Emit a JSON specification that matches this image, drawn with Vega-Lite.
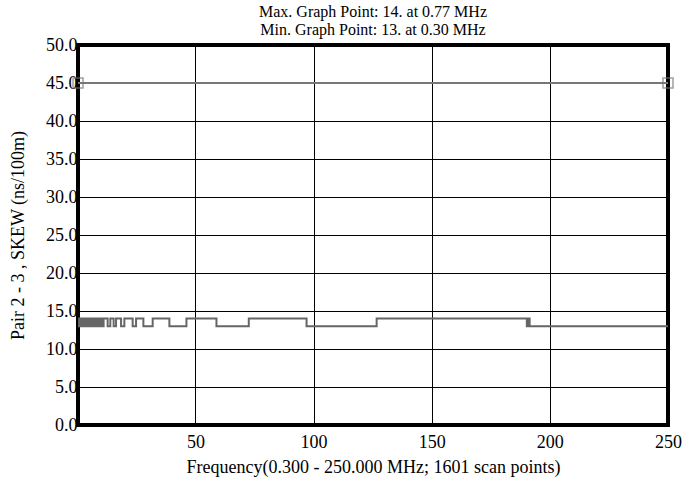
{
  "$schema": "https://vega.github.io/schema/vega-lite/v6.json",
  "width": 590,
  "height": 380,
  "autosize": {"type": "none"},
  "padding": {"left": 78, "top": 45, "right": 28, "bottom": 61},
  "background": "white",
  "title": {
    "text": ["Max. Graph Point: 14. at 0.77 MHz", "Min. Graph Point: 13. at 0.30 MHz"],
    "font": "Liberation Serif",
    "fontSize": 16,
    "fontWeight": "normal",
    "color": "black",
    "anchor": "middle",
    "lineHeight": 18,
    "offset": -2
  },
  "config": {
    "view": {"stroke": "black", "strokeWidth": 4},
    "axis": {
      "labelFont": "Liberation Serif",
      "titleFont": "Liberation Serif",
      "labelFontSize": 18,
      "titleFontSize": 18,
      "titleFontWeight": "normal",
      "labelColor": "black",
      "titleColor": "black",
      "gridColor": "black",
      "gridWidth": 1,
      "gridOpacity": 1,
      "domain": false,
      "ticks": false,
      "labelOverlap": false,
      "labelFlush": false
    }
  },
  "datasets": {
    "skew": [
      {"f": 0.3, "v": 13}, {"f": 0.77, "v": 14}, {"f": 1.08, "v": 13}, {"f": 1.39, "v": 14},
      {"f": 1.70, "v": 13}, {"f": 2.02, "v": 14}, {"f": 2.33, "v": 13}, {"f": 2.64, "v": 14},
      {"f": 2.95, "v": 13}, {"f": 3.27, "v": 14}, {"f": 3.58, "v": 13}, {"f": 3.89, "v": 14},
      {"f": 4.20, "v": 13}, {"f": 4.52, "v": 14}, {"f": 4.83, "v": 13}, {"f": 5.14, "v": 14},
      {"f": 5.45, "v": 13}, {"f": 5.77, "v": 14}, {"f": 6.08, "v": 13}, {"f": 6.39, "v": 14},
      {"f": 6.70, "v": 13}, {"f": 7.02, "v": 14}, {"f": 7.33, "v": 13}, {"f": 7.64, "v": 14},
      {"f": 7.95, "v": 13}, {"f": 8.27, "v": 14}, {"f": 8.58, "v": 13}, {"f": 8.89, "v": 14},
      {"f": 9.20, "v": 13}, {"f": 9.52, "v": 14}, {"f": 9.83, "v": 13}, {"f": 10.14, "v": 14},
      {"f": 10.45, "v": 13}, {"f": 10.77, "v": 13}, {"f": 11.14, "v": 14},
      {"f": 12.84, "v": 13}, {"f": 13.98, "v": 14}, {"f": 15.38, "v": 13}, {"f": 16.40, "v": 14},
      {"f": 18.52, "v": 13}, {"f": 19.92, "v": 14}, {"f": 23.43, "v": 13}, {"f": 24.87, "v": 14},
      {"f": 27.97, "v": 13}, {"f": 31.91, "v": 14}, {"f": 38.98, "v": 13}, {"f": 46.19, "v": 14},
      {"f": 58.90, "v": 13}, {"f": 72.58, "v": 14}, {"f": 97.03, "v": 13}, {"f": 126.69, "v": 14},
      {"f": 190.25, "v": 13}, {"f": 190.80, "v": 14}, {"f": 191.44, "v": 13}, {"f": 250, "v": 13}
    ],
    "limit": [
      {"f": 0.3, "v": 45}, {"f": 250, "v": 45}
    ]
  },
  "encoding": {
    "x": {
      "field": "f", "type": "quantitative",
      "scale": {"domain": [0.3, 250], "nice": false, "zero": false},
      "axis": {
        "values": [50, 100, 150, 200, 250],
        "tickCount": 20,
        "title": "Frequency(0.300 - 250.000 MHz; 1601 scan points)",
        "labelPadding": 8,
        "titlePadding": 7
      }
    },
    "y": {
      "field": "v", "type": "quantitative",
      "scale": {"domain": [0, 50], "nice": false},
      "axis": {
        "values": [0, 5, 10, 15, 20, 25, 30, 35, 40, 45, 50],
        "tickCount": 20,
        "format": ".1f",
        "title": "Pair 2 - 3 , SKEW (ns/100m)",
        "labelPadding": 1,
        "titlePadding": 18
      }
    }
  },
  "layer": [
    {
      "data": {"name": "skew"},
      "mark": {"type": "line", "interpolate": "step-after", "color": "#666666", "strokeWidth": 2}
    },
    {
      "data": {"name": "limit"},
      "mark": {"type": "line", "color": "#777777", "strokeWidth": 2}
    },
    {
      "data": {"name": "limit"},
      "mark": {"type": "point", "shape": "square", "filled": false, "color": "#777777", "size": 100, "strokeWidth": 1.5}
    }
  ]
}
